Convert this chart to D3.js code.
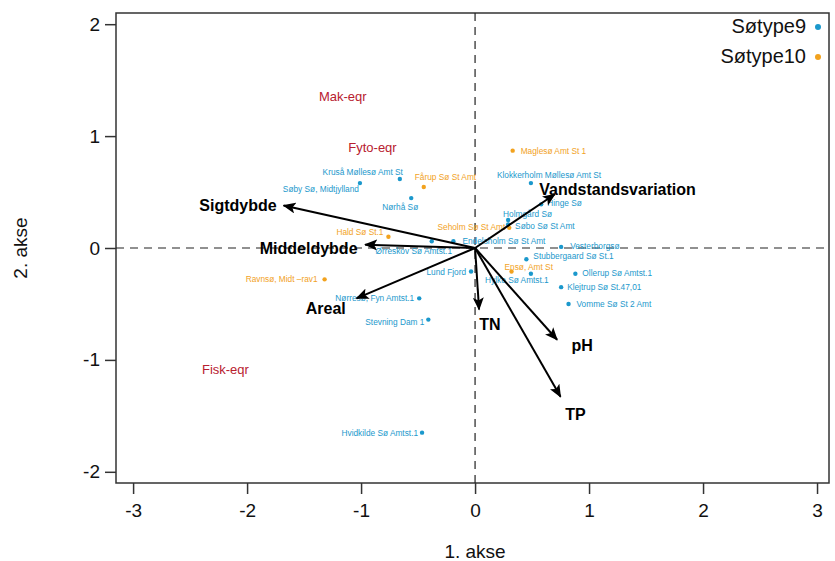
<!DOCTYPE html>
<html lang="da">
  <head>
    <meta charset="UTF-8" />
    <title>PCA biplot: Søtype9 og Søtype10</title>
    <style>
      html, body { margin: 0; padding: 0; background: #fff; }
      svg { display: block; font-family: "Liberation Sans", Arial, sans-serif; }
    </style>
    <script src="https://cdn.jsdelivr.net/npm/d3@7/dist/d3.min.js"></script>
  </head>
  <body>
    <script>
      // --- data ---
      const siteNames = [
        "Kruså Møllesø Amt St", "Søby Sø, Midtjylland", "Nørhå Sø",
        "Klokkerholm Møllesø Amt St", "Hinge Sø", "Holmgård Sø", "Søbo Sø St Amt",
        "Endelsholm Sø St Amt", "Ørreskov Sø Amtst.1", "Lund Fjord", "Hylke Sø Amtst.1",
        "Stubbergaard Sø St.1", "Vesterborgsø", "Ollerup Sø Amtst.1", "Klejtrup Sø St.47,01",
        "Vomme Sø St 2 Amt", "Nørresø, Fyn Amtst.1", "Stevning Dam 1", "Hvidkilde Sø Amtst.1",
        "Maglesø Amt St 1", "Fårup Sø St Amt", "Hald Sø St.1", "Seholm Sø St Amt",
        "Ravnsø, Midt –rav1", "Ensø, Amt St"
      ];
      const siteX = [-0.66, -1.01, -0.56, 0.49, 0.58, 0.29, 0.29, -0.19, -0.38, -0.035, 0.49,
        0.45, 0.755, 0.88, 0.755, 0.82, -0.49, -0.41, -0.465,
        0.33, -0.45, -0.76, 0.30, -1.32, 0.32];
      const siteY = [0.616, 0.58, 0.446, 0.58, 0.39, 0.25, 0.21, 0.06, 0.06, -0.21, -0.23,
        -0.10, 0.01, -0.23, -0.35, -0.50, -0.45, -0.64, -1.65,
        0.87, 0.545, 0.10, 0.18, -0.28, -0.21];
      const siteType = [9, 9, 9, 9, 9, 9, 9, 9, 9, 9, 9, 9, 9, 9, 9, 9, 9, 9, 9,
        10, 10, 10, 10, 10, 10];

      const envNames = ["Sigtdybde", "Middeldybde", "Areal", "Vandstandsvariation", "TN", "pH", "TP"];
      const envX = [-1.68, -0.965, -1.04, 0.70, 0.035, 0.72, 0.75];
      const envY = [0.38, 0.03, -0.45, 0.48, -0.55, -0.82, -1.33];
      const envLabelX = [-2.08, -1.46, -1.31, 1.25, 0.13, 0.94, 0.88];
      const envLabelY = [0.38, 0.0, -0.54, 0.52, -0.68, -0.875, -1.49];

      const eqrNames = ["Mak-eqr", "Fyto-eqr", "Fisk-eqr"];
      const eqrX = [-1.16, -0.90, -2.19];
      const eqrY = [1.35, 0.90, -1.09];

      const xTicks = [-3, -2, -1, 0, 1, 2, 3];
      const yTicks = [-2, -1, 0, 1, 2];
      const legendLabels = ["Søtype9", "Søtype10"];
      const legendTypes = [9, 10];

      // --- layout ---
      const width = 835, height = 561;
      const plot = { left: 116, right: 829, top: 13, bottom: 483 };
      const typeColor = { 9: "#1b98cc", 10: "#f2a21e" };
      const eqrColor = "#b8202f";

      // label placement relative to each dot: [dx, dy, anchor]
      const labelPlace = {
        "Kruså Møllesø Amt St": [3, -7, "end"],
        "Søby Sø, Midtjylland": [-1, 6, "end"],
        "Nørhå Sø": [-11, 9, "middle"],
        "Klokkerholm Møllesø Amt St": [-34, -8, "start"],
        "Hinge Sø": [6, -1, "start"],
        "Holmgård Sø": [-5, -6, "start"],
        "Søbo Sø St Amt": [7, 1, "start"],
        "Endelsholm Sø St Amt": [9, 0, "start"],
        "Ørreskov Sø Amtst.1": [-18, 10, "middle"],
        "Lund Fjord": [-5, 0, "end"],
        "Hylke Sø Amtst.1": [-14, 6, "middle"],
        "Stubbergaard Sø St.1": [7, -3, "start"],
        "Vesterborgsø": [9, -1, "start"],
        "Ollerup Sø Amtst.1": [7, -1, "start"],
        "Klejtrup Sø St.47,01": [6, 0, "start"],
        "Vomme Sø St 2 Amt": [8, 0, "start"],
        "Nørresø, Fyn Amtst.1": [-5, 0, "end"],
        "Stevning Dam 1": [-4, 2, "end"],
        "Hvidkilde Sø Amtst.1": [-4, 0, "end"],
        "Maglesø Amt St 1": [8, 0, "start"],
        "Fårup Sø St Amt": [-9, -10, "start"],
        "Hald Sø St.1": [-5, -5, "end"],
        "Seholm Sø St Amt": [-4, -1, "end"],
        "Ravnsø, Midt –rav1": [-7, 0, "end"],
        "Ensø, Amt St": [-7, -5, "start"]
      };

      const x = d3.scaleLinear().domain([-3.15, 3.105]).range([plot.left, plot.right]);
      const y = d3.scaleLinear().domain([-2.1, 2.1]).range([plot.bottom, plot.top]);

      const svg = d3.select(document.body).append("svg")
        .attr("width", width)
        .attr("height", height)
        .attr("viewBox", [0, 0, width, height]);

      const styleAxis = (g) => {
        g.select(".domain").remove();
        g.selectAll("line").attr("stroke", "#333").attr("stroke-width", 1.5);
        g.selectAll("text").attr("font-size", 19).attr("fill", "#111")
          .attr("font-family", "Liberation Sans, Arial, sans-serif");
      };

      // axes (plain hyphen minus, like the original)
      svg.append("g")
        .attr("transform", `translate(0,${plot.bottom})`)
        .call(d3.axisBottom(x).tickValues(xTicks).tickSize(11).tickPadding(10).tickFormat((d) => String(d)))
        .call(styleAxis);

      svg.append("g")
        .attr("transform", `translate(${plot.left},0)`)
        .call(d3.axisLeft(y).tickValues(yTicks).tickSize(11).tickPadding(5).tickFormat((d) => String(d)))
        .call(styleAxis);

      // box
      svg.append("rect")
        .attr("x", plot.left).attr("y", plot.top)
        .attr("width", plot.right - plot.left).attr("height", plot.bottom - plot.top)
        .attr("fill", "none").attr("stroke", "#333").attr("stroke-width", 1.5);

      // zero lines
      svg.append("line")
        .attr("x1", plot.left).attr("x2", plot.right)
        .attr("y1", y(0)).attr("y2", y(0))
        .attr("stroke", "#222").attr("stroke-width", 1.2).attr("stroke-dasharray", "8,6");
      svg.append("line")
        .attr("x1", x(0)).attr("x2", x(0))
        .attr("y1", plot.top).attr("y2", plot.bottom)
        .attr("stroke", "#222").attr("stroke-width", 1.2).attr("stroke-dasharray", "8,6");

      // axis titles
      svg.append("text")
        .attr("x", x(0)).attr("y", 551)
        .attr("text-anchor", "middle").attr("dominant-baseline", "central")
        .attr("font-size", 19).attr("fill", "#111")
        .text("1. akse");
      svg.append("text")
        .attr("transform", `translate(20,${y(0)}) rotate(-90)`)
        .attr("text-anchor", "middle").attr("dominant-baseline", "central")
        .attr("font-size", 19).attr("fill", "#111")
        .text("2. akse");

      // sites
      const sites = siteNames.map((name, i) => ({ name, x: siteX[i], y: siteY[i], type: siteType[i] }));
      const siteG = svg.append("g").selectAll("g").data(sites).join("g")
        .attr("transform", (d) => `translate(${x(d.x)},${y(d.y)})`);
      siteG.append("circle").attr("r", 2.2).attr("fill", (d) => typeColor[d.type]);
      siteG.append("text")
        .attr("x", (d) => labelPlace[d.name][0])
        .attr("y", (d) => labelPlace[d.name][1])
        .attr("text-anchor", (d) => labelPlace[d.name][2])
        .attr("dominant-baseline", "central")
        .attr("font-size", 8.3)
        .attr("fill", (d) => typeColor[d.type])
        .text((d) => d.name);

      // eqr labels
      svg.append("g").selectAll("text")
        .data(eqrNames.map((name, i) => ({ name, x: eqrX[i], y: eqrY[i] })))
        .join("text")
        .attr("x", (d) => x(d.x)).attr("y", (d) => y(d.y))
        .attr("text-anchor", "middle").attr("dominant-baseline", "central")
        .attr("font-size", 13).attr("fill", eqrColor)
        .text((d) => d.name);

      // environment arrows
      svg.append("defs").append("marker")
        .attr("id", "head")
        .attr("viewBox", "0 0 13 11")
        .attr("refX", 12).attr("refY", 5.5)
        .attr("markerWidth", 13).attr("markerHeight", 11)
        .attr("markerUnits", "userSpaceOnUse")
        .attr("orient", "auto")
        .append("path").attr("d", "M0,0 L13,5.5 L0,11 L3,5.5 Z").attr("fill", "#000");

      const env = envNames.map((name, i) => ({
        name, x: envX[i], y: envY[i], lx: envLabelX[i], ly: envLabelY[i]
      }));
      svg.append("g").selectAll("line").data(env).join("line")
        .attr("x1", x(0)).attr("y1", y(0))
        .attr("x2", (d) => x(d.x)).attr("y2", (d) => y(d.y))
        .attr("stroke", "#000").attr("stroke-width", 2)
        .attr("marker-end", "url(#head)");
      svg.append("g").selectAll("text").data(env).join("text")
        .attr("x", (d) => x(d.lx)).attr("y", (d) => y(d.ly))
        .attr("text-anchor", "middle").attr("dominant-baseline", "central")
        .attr("font-size", 16).attr("font-weight", "bold").attr("fill", "#000")
        .text((d) => d.name);

      // legend
      const legend = svg.append("g").selectAll("g")
        .data(legendLabels.map((label, i) => ({ label, type: legendTypes[i] })))
        .join("g")
        .attr("transform", (d, i) => `translate(806,${26 + i * 30})`);
      legend.append("text")
        .attr("text-anchor", "end").attr("dominant-baseline", "central")
        .attr("font-size", 20).attr("fill", "#111")
        .text((d) => d.label);
      legend.append("circle")
        .attr("cx", 12).attr("cy", 1).attr("r", 3)
        .attr("fill", (d) => typeColor[d.type]);
    </script>
  </body>
</html>
